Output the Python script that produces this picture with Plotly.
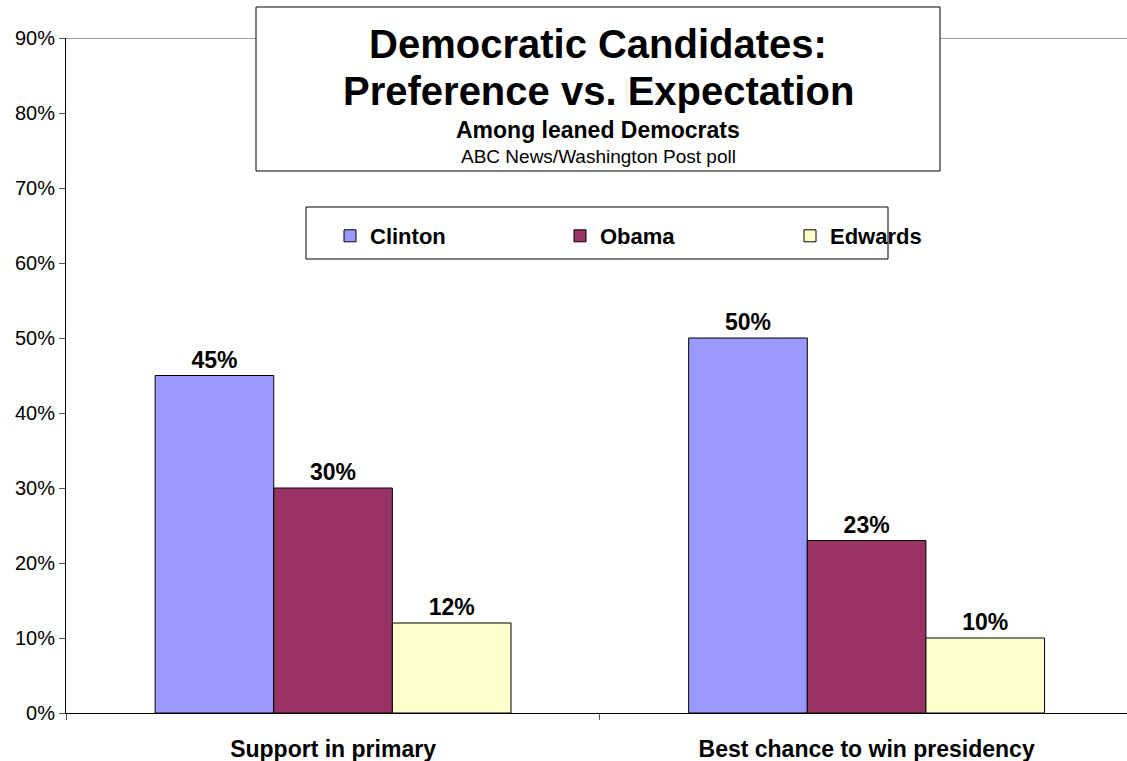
import plotly.graph_objects as go

categories = ["Support in primary", "Best chance to win presidency"]
series_names = ["Clinton", "Obama", "Edwards"]
clinton = [45, 50]
obama = [30, 23]
edwards = [12, 10]
colors = ["#9999FF", "#993366", "#FFFFCC"]
y_ticks = [0, 10, 20, 30, 40, 50, 60, 70, 80, 90]
y_labels = [f"{v}%" for v in y_ticks]

W, H = 1127, 761
L, R, T, B = 66, 0, 38, 48
pw, ph = W - L - R, H - T - B

def px_x(x):
    return (x - L) / pw

def px_y(y):
    return (H - B - y) / ph

font = "Liberation Sans, Arial"

fig = go.Figure()
for name, vals, col in zip(series_names, [clinton, obama, edwards], colors):
    fig.add_trace(go.Bar(
        name=name, x=categories, y=vals,
        marker=dict(color=col, line=dict(color="black", width=1)),
        text=[f"{v}%" for v in vals], textposition="outside",
        textfont=dict(family=font, size=23, color="black", weight="bold"),
        cliponaxis=False,
    ))

fig.update_layout(
    width=W, height=H,
    margin=dict(l=L, r=R, t=T, b=B, autoexpand=False),
    paper_bgcolor="white", plot_bgcolor="white",
    barmode="group", bargap=0.333, bargroupgap=0,
    font=dict(family=font, color="black"),
    showlegend=True,
    legend=dict(
        orientation="h", x=px_x(330), y=px_y(215), xanchor="left", yanchor="top",
        bgcolor="rgba(0,0,0,0)", borderwidth=0,
        font=dict(family=font, size=22, color="black", weight="bold"),
        entrywidth=185, entrywidthmode="pixels",
        traceorder="normal",
    ),
    xaxis=dict(
        type="category", range=[-0.5005, 1.488],
        showline=True, linecolor="black", linewidth=1,
        ticks="outside", ticklen=6, tickcolor="#555555", tickson="boundaries",
        showgrid=False,
        tickfont=dict(family=font, size=23, color="black", weight="bold"),
        ticklabelstandoff=15,
    ),
    yaxis=dict(
        range=[0, 90], tickmode="array", tickvals=y_ticks, ticktext=y_labels,
        showline=True, linecolor="black", linewidth=1,
        ticks="outside", ticklen=6, tickcolor="#555555",
        showgrid=False, zeroline=False,
        tickfont=dict(family=font, size=20, color="black"),
    ),
)

# top border of plot area
fig.add_shape(type="line", xref="paper", yref="y", x0=0, x1=1, y0=90, y1=90,
              line=dict(color="#808080", width=1.5), layer="below")

# legend box
fig.add_shape(type="rect", xref="paper", yref="paper",
              x0=px_x(306), x1=px_x(888), y0=px_y(259), y1=px_y(207),
              line=dict(color="black", width=1), fillcolor="white", layer="above")

# title box
fig.add_shape(type="rect", xref="paper", yref="paper",
              x0=px_x(256), x1=px_x(940), y0=px_y(171), y1=px_y(7),
              line=dict(color="black", width=1), fillcolor="white", layer="above")

cx = px_x(598)
titles = [
    ("Democratic Candidates:", 44, 40, "bold"),
    ("Preference vs. Expectation", 91, 40, "bold"),
    ("Among leaned Democrats", 130, 23, "bold"),
    ("ABC News/Washington Post poll", 156, 19, "normal"),
]
for txt, yy, sz, wt in titles:
    fig.add_annotation(text=txt, xref="paper", yref="paper", x=cx, y=px_y(yy),
                       xanchor="center", yanchor="middle", showarrow=False,
                       font=dict(family=font, size=sz, color="black", weight=wt))

fig.write_html("out.html", config={"displayModeBar": False},
               post_script="document.body.style.margin='0px';")
